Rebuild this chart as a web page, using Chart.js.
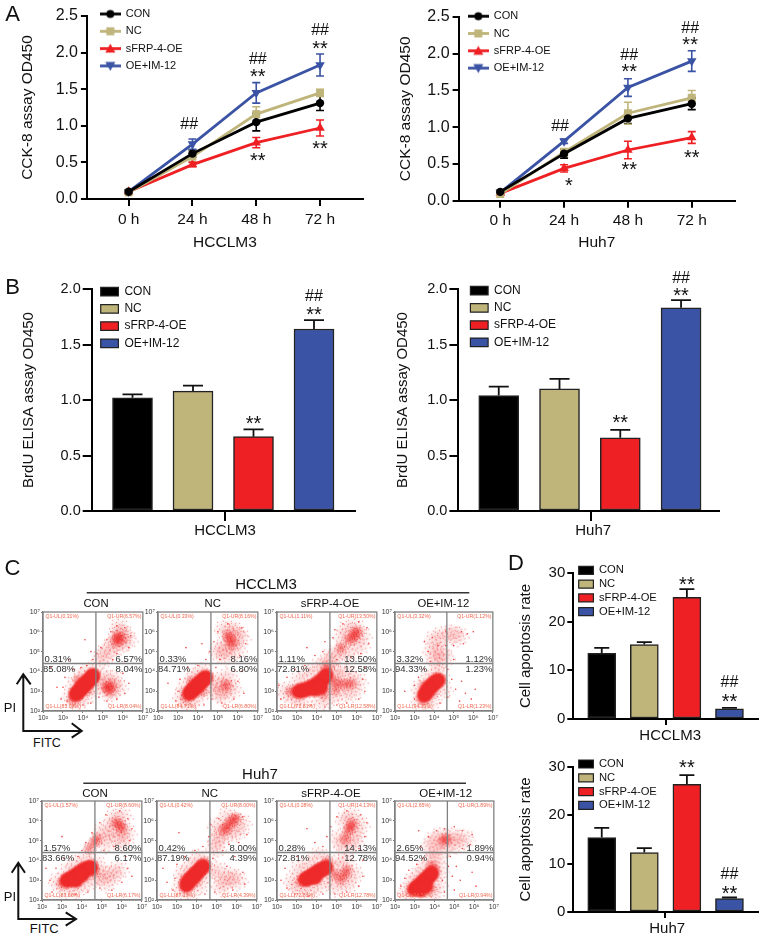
<!DOCTYPE html>
<html><head><meta charset="utf-8">
<script src="https://cdn.jsdelivr.net/npm/chart.js@4"></script>
<style>
html,body{margin:0;padding:0;background:#fff;width:763px;height:937px;overflow:hidden;font-family:"Liberation Sans",Arial,sans-serif}
canvas{position:absolute}
.t{position:absolute;transform:translate(-50%,-50%);white-space:nowrap;color:#111;line-height:1}
svg{position:absolute;left:0;top:0}
</style></head><body>
<svg width="763" height="937" fill="none" stroke="#111">
<path d="M23.3 731V675M16.7 684.3L23.3 674.3L30.7 684.3M22.3 731H81M71.7 723.3L81.7 731L71.7 737.7" stroke-width="2"/>
<path d="M18.3 919V864M11.7 872.7L18.3 862.7L25 872.7M17.3 919H75M65.7 912.3L76 919L65.7 925.7" stroke-width="2"/>
<path d="M86.7 592.7H469.3M83.3 783.3H466" stroke-width="1.6" stroke="#333"/>
</svg>
<script>
// ---------- shared categories ----------
const groupNames = ['CON','NC','sFRP-4-OE','OE+IM-12'];
const groupColors = ['#000000','#BFB47A','#EE2024','#3A53A4'];
const timeHours = [0,24,48,72];
const timeLabels = ['0 h','24 h','48 h','72 h'];

// ---------- panel A values (mean / error) ----------
const aHccCON=[0.10,0.62,1.05,1.31], aHccCONe=[0.02,0.05,0.12,0.10];
const aHccNC=[0.09,0.58,1.16,1.45], aHccNCe=[0.02,0.07,0.10,0.05];
const aHccOE=[0.10,0.47,0.77,0.97], aHccOEe=[0.01,0.03,0.07,0.11];
const aHccIM=[0.10,0.75,1.45,1.83], aHccIMe=[0.02,0.07,0.14,0.15];
const aHuhCON=[0.12,0.64,1.12,1.32], aHuhCONe=[0.02,0.06,0.07,0.08];
const aHuhNC=[0.09,0.66,1.19,1.40], aHuhNCe=[0.02,0.05,0.15,0.10];
const aHuhOE=[0.10,0.44,0.69,0.86], aHuhOEe=[0.01,0.05,0.12,0.08];
const aHuhIM=[0.11,0.81,1.54,1.90], aHuhIMe=[0.01,0.03,0.12,0.14];
const aHccNotes=[[22.8,1.01,'##'],[48.6,1.90,'##'],[48.6,1.72,'**'],[72,2.30,'##'],[72,2.10,'**'],[48.6,0.57,'**'],[72,0.735,'**']];
const aHuhNotes=[[22.5,1.01,'##'],[25.8,0.25,'*'],[48.5,0.46,'**'],[72,0.63,'**'],[48.5,1.97,'##'],[48.5,1.80,'**'],[71.4,2.34,'##'],[71.4,2.16,'**']];

// ---------- panel B values ----------
const bHcc=[1.02,1.08,0.67,1.64], bHccTop=[1.05,1.13,0.735,1.72];
const bHuh=[1.04,1.10,0.66,1.83], bHuhTop=[1.12,1.19,0.73,1.90];
const bHccNotes=[[3,0.815,'**'],[4,1.80,'**'],[4,1.93,'##']];
const bHuhNotes=[[3,0.82,'**'],[4,1.97,'**'],[4,2.09,'##']];

// ---------- panel D values ----------
const dHcc=[13.5,15.3,25.0,2.1], dHccTop=[14.6,15.8,26.7,2.3];
const dHuh=[15.4,12.3,26.4,2.8], dHuhTop=[17.4,13.2,28.3,3.0];
const dHccNotes=[[3,28.3,'**'],[4,7.4,'##'],[4,4.3,'**']];
const dHuhNotes=[[3,30.6,'**'],[4,7.8,'##'],[4,4.5,'**']];

// ---------- panel C : gate positions and percentages (UL, UR, LL, LR) ----------
const flowGate=[4.65,4.4];
const pHccCon=['0.31%','6.57%','85.08%','8.04%'], pHccNc=['0.33%','8.16%','84.71%','6.80%'];
const pHccOe=['1.11%','13.50%','72.81%','12.58%'], pHccIm=['3.32%','1.12%','94.33%','1.23%'];
const pHuhCon=['1.57%','8.60%','83.66%','6.17%'], pHuhNc=['0.42%','8.00%','87.19%','4.39%'];
const pHuhOe=['0.28%','14.13%','72.81%','12.78%'], pHuhIm=['2.65%','1.89%','94.52%','0.94%'];

// ---------- panel C : cloud positions, in log10 units ----------
const hccConCore=[[3.65,2.85],[3.75,2.95],[3.85,3.1],[3.95,3.2],[4.05,3.3],[4.15,3.4],[4.25,3.5],[4.35,3.6],[4.45,3.7],[4.5,3.8]];
const hccConDense=[[5.75,5.75],[5.85,5.65],[5.65,5.55],[5.2,3.2],[5.35,3.25],[5.3,3.05],[3.5,2.6],[4.2,3.05],[3.8,3.55]];
const hccConHaze=[[3.4,2.7],[3.6,3.3],[3.9,3.7],[4.3,4.0],[4.6,3.3],[4.1,2.8],[3.7,2.5],[5.1,3.3],[5.4,3.2],[5.5,3.6],[5.0,3.7],[5.7,3.2],[5.3,2.9],[5.8,5.8],[5.6,5.5],[6.0,5.9],[5.9,5.4],[5.4,5.2],[5.1,4.9],[4.9,4.6],[6.2,5.6],[5.8,6.2]];
const hccConDots=[[3.0,3.2],[3.2,2.5],[2.9,2.6],[3.1,3.7],[3.5,4.1],[3.9,4.2],[4.2,4.3],[4.5,4.6],[4.7,4.9],[4.4,5.0],[4.9,5.2],[5.2,5.6],[5.4,6.0],[5.7,6.3],[6.1,6.2],[6.4,5.8],[6.3,5.2],[5.7,4.9],[5.5,4.6],[6.1,4.5],[6.0,3.9],[6.3,3.4],[6.1,2.9],[5.7,2.6],[5.2,2.5],[4.8,2.7],[4.4,2.4],[4.0,2.3],[3.3,4.6],[4.1,5.6],[2.4,4.2],[2.7,3.2]];

const hccNcCore=[[3.58,2.9],[3.68,3.0],[3.78,3.1],[3.88,3.2],[3.98,3.3],[4.08,3.4],[4.18,3.5],[4.28,3.6],[4.4,3.7]];
const hccNcDense=[[5.6,5.6],[5.5,5.8],[5.7,5.4],[5.4,3.3],[3.4,2.7],[4.2,3.0],[3.7,3.5]];
const hccNcHaze=[[3.2,2.7],[3.4,3.2],[3.8,3.7],[4.2,4.0],[4.5,3.2],[3.9,2.7],[3.5,2.4],[5.0,3.5],[5.3,3.2],[5.5,3.7],[5.7,3.1],[5.2,2.8],[5.0,3.0],[5.6,5.5],[5.3,5.2],[5.9,5.9],[6.1,5.7],[5.3,6.1],[5.0,5.0],[5.4,4.8],[5.9,5.1],[5.7,6.1]];
const hccNcDots=[[2.9,2.5],[3.0,3.0],[3.1,3.6],[3.5,4.2],[4.0,4.3],[4.4,4.6],[4.6,5.0],[4.8,5.5],[5.0,6.0],[5.5,6.4],[6.2,6.2],[6.4,5.4],[6.1,4.8],[5.1,4.6],[4.9,4.2],[6.2,4.0],[6.0,3.5],[6.3,2.9],[5.8,2.6],[5.2,2.4],[4.7,2.6],[4.3,2.3],[2.5,3.4],[4.2,5.4],[3.4,5.2]];

const hccOeCore=[[3.1,3.0],[3.3,3.05],[3.5,3.1],[3.7,3.2],[3.9,3.3],[4.1,3.45],[4.3,3.6],[4.45,3.8],[3.9,3.1],[4.2,3.2]];
const hccOeDense=[[5.9,5.9],[5.8,5.7],[6.0,6.0],[5.6,5.6],[5.2,5.2],[5.1,3.4],[5.4,3.35],[4.8,3.5],[5.7,3.4],[2.7,3.0],[4.5,4.2],[4.3,2.9],[4.9,3.1]];
const hccOeHaze=[[2.4,3.0],[2.8,2.7],[3.2,2.6],[3.1,3.5],[3.6,3.9],[4.1,4.2],[4.5,4.4],[4.7,3.9],[5.0,3.9],[5.5,3.9],[6.0,3.5],[5.8,3.0],[5.3,2.9],[4.7,2.7],[4.2,2.5],[5.9,6.2],[6.2,5.8],[5.5,6.1],[5.3,5.7],[5.0,4.9],[5.5,5.0],[6.1,5.3],[4.7,4.7]];
const hccOeDots=[[2.2,2.6],[2.1,3.3],[2.5,3.7],[2.9,4.1],[3.4,4.3],[3.9,4.8],[4.3,5.0],[4.4,5.5],[4.8,5.7],[4.9,6.1],[5.3,6.4],[6.1,6.5],[6.5,6.2],[6.6,5.4],[6.2,4.9],[5.7,4.7],[5.0,4.6],[6.4,4.2],[6.3,3.6],[6.4,3.0],[6.1,2.6],[5.5,2.4],[5.0,2.3],[4.4,2.2],[3.7,2.3],[3.5,5.2]];

const hccImCore=[[3.5,2.8],[3.6,2.95],[3.7,3.1],[3.82,3.25],[3.95,3.35],[4.05,3.45],[4.2,3.55]];
const hccImDense=[[3.4,2.6],[4.3,3.6],[3.9,2.95],[3.5,3.25]];
const hccImHaze=[[3.3,2.5],[3.3,3.1],[3.7,3.6],[4.2,3.9],[4.4,3.1],[3.8,2.5],[4.4,5.8],[4.0,5.6],[3.9,5.0],[4.3,5.0],[4.1,4.5],[4.5,4.7],[4.9,5.9],[5.2,5.8]];
const hccImDots=[[3.0,2.6],[3.0,3.3],[3.2,3.7],[3.5,4.1],[3.8,4.5],[3.7,5.0],[4.2,5.3],[4.6,5.3],[4.6,6.0],[3.9,5.7],[3.5,5.5],[5.0,5.3],[5.4,6.0],[5.7,5.9],[6.0,6.0],[5.5,5.4],[5.0,4.6],[4.7,4.1],[4.9,3.6],[5.1,3.1],[5.4,3.5],[5.6,2.9],[5.9,2.6],[6.1,3.1],[4.7,2.7],[4.3,2.4],[2.5,3.0],[5.3,2.5]];

const huhConCore=[[3.25,3.0],[3.4,3.05],[3.55,3.15],[3.7,3.25],[3.85,3.35],[4.0,3.45],[4.15,3.55],[4.3,3.6],[4.45,3.65],[3.7,3.0],[4.0,3.25]];
const huhConDense=[[4.75,5.1],[4.6,4.9],[4.35,4.6],[5.7,5.9],[5.9,5.8],[6.0,5.6],[3.0,2.85],[4.55,3.4]];
const huhConHaze=[[2.8,2.9],[3.2,2.6],[3.3,3.4],[3.7,3.8],[4.2,4.0],[4.7,3.8],[4.7,3.2],[4.2,2.9],[3.7,2.6],[5.0,3.3],[5.5,3.3],[5.2,2.9],[5.8,3.5],[5.0,5.4],[5.4,5.6],[5.6,6.1],[6.0,6.2],[6.2,5.4],[5.7,5.3],[6.0,5.0],[5.2,4.9]];
const huhConDots=[[2.4,3.0],[2.2,3.6],[2.7,3.6],[3.1,4.1],[3.8,4.2],[4.0,4.5],[4.2,4.9],[4.5,5.4],[4.9,5.9],[5.2,6.3],[5.9,6.5],[6.3,6.1],[6.5,5.6],[6.4,5.0],[5.6,4.7],[5.1,4.5],[6.2,4.2],[6.3,3.6],[6.5,3.2],[6.0,2.9],[5.5,2.5],[4.9,2.6],[4.3,2.4],[3.7,2.3],[3.0,5.2],[2.5,2.4]];

const huhNcCore=[[3.47,2.75],[3.57,2.9],[3.67,3.05],[3.77,3.15],[3.87,3.25],[3.97,3.35],[4.07,3.45],[4.2,3.6],[4.3,3.7]];
const huhNcDense=[[5.8,6.05],[5.65,5.9],[5.5,5.7],[5.35,5.55],[5.95,6.15],[3.4,3.05],[4.4,3.9],[3.9,2.95]];
const huhNcHaze=[[3.2,2.6],[3.3,3.3],[3.7,3.7],[4.1,4.1],[4.5,3.4],[4.1,2.8],[3.6,2.4],[5.0,3.5],[5.4,3.0],[5.7,3.2],[5.2,2.7],[6.0,3.0],[5.0,5.0],[5.2,5.3],[5.6,5.4],[5.0,5.7],[6.0,5.5],[4.9,4.6],[5.5,6.2],[6.2,5.9]];
const huhNcDots=[[2.8,2.5],[2.9,3.1],[3.0,3.8],[3.4,4.2],[3.9,4.5],[4.3,4.7],[4.6,5.2],[4.7,5.8],[5.1,6.1],[6.3,6.2],[6.5,5.3],[6.1,4.9],[5.6,4.8],[5.3,4.5],[5.9,4.2],[4.8,4.1],[5.5,3.7],[6.3,3.4],[6.4,2.8],[5.8,2.5],[4.9,2.4],[4.4,2.3],[2.3,3.6],[3.1,5.4],[2.5,2.9]];

const huhOeCore=[[3.42,3.05],[3.55,3.1],[3.7,3.2],[3.85,3.3],[4.0,3.4],[4.15,3.5],[4.3,3.55],[4.45,3.65],[3.9,3.15]];
const huhOeDense=[[5.67,5.67],[5.55,5.5],[5.75,5.85],[5.35,3.3],[5.2,3.05],[5.5,3.5],[4.9,3.3],[3.2,2.95],[4.5,3.95],[5.4,5.1]];
const huhOeHaze=[[2.8,2.9],[3.1,2.6],[3.1,3.5],[3.6,3.8],[4.1,4.2],[4.6,3.2],[4.1,2.8],[3.6,2.5],[4.9,3.8],[5.4,3.9],[5.8,3.3],[5.5,2.8],[4.9,2.7],[5.9,5.3],[6.1,5.8],[5.4,6.0],[5.7,6.2],[5.1,5.1],[5.3,4.7],[5.8,4.9]];
const huhOeDots=[[2.2,3.0],[2.4,3.6],[2.5,2.6],[3.0,4.2],[3.6,4.4],[3.9,4.9],[4.3,4.7],[4.5,5.2],[4.7,5.7],[5.0,6.2],[5.5,6.5],[6.2,6.3],[6.5,5.9],[6.4,5.2],[6.1,4.6],[6.3,4.0],[6.3,3.2],[6.1,2.7],[5.5,2.4],[4.9,2.3],[4.3,2.3],[3.6,2.2],[3.5,5.6],[2.9,2.3]];

const huhImCore=[[3.0,2.55],[3.12,2.65],[3.25,2.75],[3.38,2.88],[3.5,3.0],[3.62,3.1],[3.75,3.22],[3.85,3.35],[3.3,2.5],[3.55,2.7]];
const huhImDense=[[3.85,3.7],[3.95,3.5],[4.6,5.1],[4.45,5.0],[2.8,2.45],[3.75,2.6]];
const huhImHaze=[[2.6,2.4],[2.9,2.9],[3.2,3.2],[3.5,3.6],[3.9,4.0],[4.1,4.3],[4.2,3.5],[4.1,2.8],[3.9,2.3],[4.0,5.0],[4.3,5.2],[4.9,5.2],[5.1,4.9],[4.6,4.7],[5.5,5.1],[3.8,4.7]];
const huhImDots=[[2.3,2.7],[2.5,3.1],[2.7,3.5],[3.1,3.8],[3.4,4.1],[3.3,4.7],[3.7,5.2],[4.1,5.5],[4.5,5.6],[5.0,5.7],[5.4,5.5],[5.9,5.3],[5.8,4.8],[5.4,4.6],[4.8,4.2],[4.7,3.7],[4.9,3.2],[5.1,3.7],[5.3,3.0],[5.0,2.5],[4.5,2.4],[4.4,3.0],[5.9,3.4],[6.1,2.7],[3.2,5.5]];

// ---------- helpers ----------
const FF='"Liberation Sans",Arial,sans-serif';
Chart.defaults.font.family=FF;
Chart.defaults.animation=false;
Chart.defaults.responsive=false;
Chart.defaults.color='#111';
const pts=a=>a.map(p=>({x:p[0],y:p[1]}));
function txt(s,cx,cy,size,color){const d=document.createElement('div');d.className='t';d.textContent=s;
 d.style.cssText=`left:${cx}px;top:${cy}px;font-size:${size}px;`+(color?`color:${color};`:'');document.body.appendChild(d);}
function canvasAt(l,t,w,h){const c=document.createElement('canvas');c.width=Math.round(w);c.height=Math.round(h);
 c.style.left=l+'px';c.style.top=t+'px';document.body.appendChild(c);return c;}

// marker styles for the flow clouds: a soft disc with a fine stipple, stamped at each position
function stamp(R,alpha,solid,n){const s=2*R+2,c=document.createElement('canvas');c.width=c.height=s;const x=c.getContext('2d');
 const g=x.createRadialGradient(R+1,R+1,0,R+1,R+1,R);
 g.addColorStop(0,`rgba(238,42,42,${alpha})`);g.addColorStop(solid,`rgba(238,42,42,${alpha})`);g.addColorStop(1,'rgba(238,42,42,0)');
 x.fillStyle=g;x.fillRect(0,0,s,s);
 x.fillStyle='rgba(238,42,42,.6)';
 for(let k=0;k<n;k++){const r=Math.sqrt((k+.5)/n)*R,a=k*2.39996;x.fillRect(R+1+r*Math.cos(a),R+1+r*Math.sin(a),1,1);}
 return c;}
const coreMark=stamp(9,1,0.62,0),denseMark=stamp(7,0.5,0.1,22),hazeMark=stamp(11,0.15,0.15,22);

// error whiskers taken from dataset values
const whiskers={id:'whiskers',beforeDatasetsDraw(ch){
 const {ctx,scales:{x,y}}=ch;
 ch.data.datasets.forEach(d=>{ if(!d.errs) return;
  ctx.save();ctx.strokeStyle=d.errColor;ctx.lineWidth=d.errWidth;
  d.data.forEach((p,i)=>{const px=x.getPixelForValue(p.x),hi=d.errs[i].hi,lo=d.errs[i].lo;
   const h=y.getPixelForValue(hi),l=y.getPixelForValue(lo),c=d.errCap/2;
   ctx.beginPath();ctx.moveTo(px,l);ctx.lineTo(px,h);ctx.moveTo(px-c,h);ctx.lineTo(px+c,h);
   if(lo!==p.y){ctx.moveTo(px-c,l);ctx.lineTo(px+c,l);} ctx.stroke();});
  ctx.restore();});}};
// significance marks and other text anchored on data values
const notes={id:'notes',afterDatasetsDraw(ch,_,o){
 const {ctx,scales:{x,y}}=ch;(o.items||[]).forEach(n=>{
  ctx.save();ctx.font=`${n.size}px ${FF}`;ctx.fillStyle=n.color||'#111';ctx.textAlign=n.align||'center';ctx.textBaseline='middle';
  const dy=n.text[0]==='*'?n.size*0.2:0;ctx.fillText(n.text,x.getPixelForValue(n.x),y.getPixelForValue(n.y)+dy);ctx.restore();});}};
const legendAt={id:'legendAt',beforeDraw(ch,_,o){if(o.x===undefined)return;const l=ch.legend,p=l.options.labels.padding;l.left=o.x-p;l.top=o.y-p;}};
// flow cytometry frame + quadrant gates
const gates={id:'gates',afterDatasetsDraw(ch){const g=ch.options.plugins.gates;if(!g||!g.on)return;
 const {ctx,chartArea:a,scales:{x,y}}=ch;ctx.save();ctx.strokeStyle='#808080';ctx.lineWidth=1.3;
 ctx.strokeRect(a.left,a.top,a.right-a.left,a.bottom-a.top);
 const gx=x.getPixelForValue(flowGate[0]),gy=y.getPixelForValue(flowGate[1]);
 ctx.beginPath();ctx.moveTo(gx,a.top);ctx.lineTo(gx,a.bottom);ctx.moveTo(a.left,gy);ctx.lineTo(a.right,gy);ctx.stroke();ctx.restore();}};
Chart.register(whiskers,notes,legendAt,gates);

const axisStyle=(len)=>({grid:{offset:false,drawOnChartArea:false,color:'#000',lineWidth:2,tickLength:len},border:{color:'#000',width:2}});
const markOf=i=>['circle','rect','triangle','triangle'][i];
function legendSample(i){const c=document.createElement('canvas');c.width=21;c.height=11;const x=c.getContext('2d');
 x.strokeStyle=x.fillStyle=groupColors[i];x.lineWidth=2.8;x.beginPath();x.moveTo(0,5.5);x.lineTo(21,5.5);x.stroke();
 if(i==0){x.beginPath();x.arc(10.5,5.5,4,0,7);x.fill();}
 if(i==1){x.fillRect(6.5,1.5,8,8);}
 if(i==2){x.beginPath();x.moveTo(10.5,.5);x.lineTo(15.5,9.5);x.lineTo(5.5,9.5);x.fill();}
 if(i==3){x.beginPath();x.moveTo(10.5,10.5);x.lineTo(15.5,1.5);x.lineTo(5.5,1.5);x.fill();}
 return c;}

function lineChart(g){
 const pad={top:14,right:14};const fs=15.5,lh=fs*1.2;
 const yw=g.axisX-(g.titleCx-lh/2), xh=g.titleCy+lh/2-g.bottom;
 const left=g.axisX-yw, top=g.top-pad.top;
 const c=canvasAt(left,top,yw+(g.axisEnd-g.axisX)+pad.right,pad.top+(g.bottom-g.top)+xh);
 new Chart(c,{type:'line',
  data:{datasets:g.series.map((s,i)=>({label:groupNames[i],data:timeHours.map((h,k)=>({x:h,y:s[k]})),
   errs:s.map((v,k)=>({hi:v+g.errors[i][k],lo:v-g.errors[i][k]})),errColor:groupColors[i],errWidth:1.6,errCap:8,
   borderColor:groupColors[i],backgroundColor:groupColors[i],borderWidth:2.8,tension:0,
   pointStyle:markOf(i),pointRotation:i==3?180:0,pointRadius:i==1?5.6:(i==0?4.2:5.5),pointBorderWidth:0}))},
  options:{layout:{padding:pad},
   scales:{
    x:{type:'linear',min:-(g.x0-g.axisX)/g.step*24,max:(g.axisEnd-g.x0)/g.step*24,...axisStyle(7),
      afterBuildTicks(s){s.ticks=timeHours.map(v=>({value:v}));},
      afterFit(s){s.height=xh;},
      ticks:{font:{size:15.5},padding:4,maxRotation:0,callback:v=>timeLabels[timeHours.indexOf(v)]},
      title:{display:true,text:g.group,font:{size:15.5},padding:0}},
    y:{min:0,max:2.5,...axisStyle(6),afterFit(s){s.width=yw;},
      ticks:{stepSize:0.5,font:{size:16},padding:3,callback:v=>v.toFixed(1)},
      title:{display:true,text:'CCK-8 assay OD450',font:{size:15.5},padding:0}}},
   plugins:{tooltip:{enabled:false},
    legend:{display:true,position:'chartArea',align:'start',
     labels:{usePointStyle:true,pointStyleWidth:20,boxHeight:11,padding:6.3,font:{size:11},color:'#111',
      generateLabels:()=>groupNames.map((n,i)=>({text:n,pointStyle:legendSample(i),fillStyle:groupColors[i],strokeStyle:groupColors[i],hidden:false,datasetIndex:i,fontColor:'#111'}))}},
    legendAt:{x:g.legX-left,y:g.legY-top},
    notes:{items:g.notes.map(n=>({x:n[0],y:n[1],text:n[2],size:n[2][0]==='#'?16:20}))}}}});
}

function barChart(g){
 const pad={top:26,right:6};const fs=15,lh=fs*1.2;
 const yw=g.axisX-(g.titleCx-lh/2), xh=g.xh;
 const left=g.axisX-yw, top=g.top-pad.top;
 const c=canvasAt(left,top,yw+(g.axisEnd-g.axisX)+pad.right,pad.top+(g.bottom-g.top)+xh);
 const xs=groupNames.map((_,i)=>i+1);
 new Chart(c,{type:'bar',
  data:{datasets:[{data:xs.map((x,i)=>({x,y:g.values[i]})),
    errs:g.tops.map((t,i)=>({hi:t,lo:g.values[i]})),errColor:'#111',errWidth:1.8,errCap:g.cap,
    backgroundColor:groupColors,borderColor:'#222',borderWidth:1.5,borderSkipped:false,barThickness:g.barW}]},
  options:{layout:{padding:pad},
   scales:{
    x:{type:'linear',offset:false,min:1-(g.x0-g.axisX)/g.step,max:4+(g.axisEnd-(g.x0+3*g.step))/g.step,...axisStyle(g.tickLen),
      afterBuildTicks(s){s.ticks=[{value:1+(g.tickX-g.x0)/g.step}];},
      afterFit(s){s.height=xh;},
      ticks:{font:{size:15},padding:g.tickPad,maxRotation:0,labelOffset:g.labelOffset||0,callback:()=>g.group}},
    y:{min:0,max:g.max,...axisStyle(g.yTick),afterFit(s){s.width=yw;},
      ticks:{stepSize:g.stepSize,font:{size:g.tickFont},padding:2,callback:v=>g.max>5?String(v):v.toFixed(1)},
      title:{display:true,text:g.ytitle,font:{size:15},padding:0}}},
   plugins:{tooltip:{enabled:false},
    legend:{display:true,position:'chartArea',align:'start',
     labels:{boxWidth:g.legBox,boxHeight:g.legBoxH,padding:g.legPad,font:{size:g.legFont},color:'#111',
      generateLabels:()=>groupNames.map((n,i)=>({text:n,fillStyle:groupColors[i],strokeStyle:'#222',lineWidth:1.2,hidden:false,index:i,fontColor:'#111'}))}},
    legendAt:{x:g.legX-left,y:g.legY-top},
    notes:{items:g.notes.map(n=>({x:n[0],y:n[1],text:n[2],size:n[2][0]==='#'?16:20}))}}}});
}

const sup={2:'²',3:'³',4:'⁴',5:'⁵',6:'⁶',7:'⁷'};
function flowChart(g){
 const pad={top:6,right:6},yw=18,xh=14;
 const c=canvasAt(g.l-yw,g.t-pad.top,yw+(g.r-g.l)+pad.right,pad.top+(g.b-g.t)+xh);
 const scale=()=>({min:2,max:7,grid:{drawOnChartArea:false,color:'#777',lineWidth:1,tickLength:2},border:{color:'#808080',width:1.3},
   ticks:{stepSize:1,autoSkip:false,maxRotation:0,font:{size:7},padding:1,color:'#333',callback:v=>'10'+sup[v]}});
 const P=g.perc;
 new Chart(c,{type:'scatter',
  data:{datasets:[
   {data:pts(g.core),pointRadius:5,pointStyle:coreMark},
   {data:pts(g.dots),pointRadius:0.8,backgroundColor:'rgba(238,42,42,.9)',pointBorderWidth:0},
   {data:pts(g.dense),pointRadius:5,pointStyle:denseMark},
   {data:pts(g.haze),pointRadius:5,pointStyle:hazeMark}]},
  options:{layout:{padding:pad},
   scales:{x:{...scale(),afterFit(s){s.height=xh;}},y:{...scale(),afterFit(s){s.width=yw;}}},
   plugins:{legend:{display:false},tooltip:{enabled:false},gates:{on:true},
    notes:{items:[
     {x:2.08,y:4.62,text:P[0],size:9.5,align:'left',color:'#333'},
     {x:6.98,y:4.62,text:P[1],size:9.5,align:'right',color:'#333'},
     {x:2.0,y:4.08,text:P[2],size:9.5,align:'left',color:'#333'},
     {x:6.98,y:4.08,text:P[3],size:9.5,align:'right',color:'#333'},
     {x:2.12,y:6.78,text:'Q1-UL('+P[0]+')',size:5.2,align:'left',color:'#F0674F'},
     {x:6.93,y:6.78,text:'Q1-UR('+P[1]+')',size:5.2,align:'right',color:'#F0674F'},
     {x:2.12,y:2.2,text:'Q1-LL('+P[2]+')',size:5.2,align:'left',color:'#F0674F'},
     {x:6.93,y:2.2,text:'Q1-LR('+P[3]+')',size:5.2,align:'right',color:'#F0674F'}]}}}});
}

// ---------- A ----------
lineChart({group:'HCCLM3',axisX:87.3,axisEnd:363,top:15.5,bottom:198,x0:129,step:63.7,titleCx:27.7,titleCy:241.7,
 series:[aHccCON,aHccNC,aHccOE,aHccIM],errors:[aHccCONe,aHccNCe,aHccOEe,aHccIMe],notes:aHccNotes,legX:100.7,legY:8});
lineChart({group:'Huh7',axisX:458.3,axisEnd:735,top:17.3,bottom:201,x0:500,step:63.9,titleCx:405,titleCy:243,
 series:[aHuhCON,aHuhNC,aHuhOE,aHuhIM],errors:[aHuhCONe,aHuhNCe,aHuhOEe,aHuhIMe],notes:aHuhNotes,legX:468,legY:11});
// ---------- B ----------
const bBase={max:2,stepSize:0.5,tickFont:14.5,ytitle:'BrdU ELISA assay OD450',barW:40,cap:20,tickLen:10,yTick:9,tickPad:1,xh:30,top:289.3,bottom:511,legBox:17.7,legBoxH:8.5,legPad:5.2,legFont:12};
barChart({...bBase,group:'HCCLM3',axisX:91.7,axisEnd:355,x0:132.5,step:60.5,tickX:225,titleCx:29,values:bHcc,tops:bHccTop,notes:bHccNotes,legX:100.7,legY:286});
barChart({...bBase,group:'Huh7',axisX:458.7,axisEnd:719,x0:499,step:60.7,tickX:591.3,titleCx:403.3,labelOffset:2,values:bHuh,tops:bHuhTop,notes:bHuhNotes,legX:470.7,legY:285});
// ---------- D ----------
const dBase={max:30,stepSize:10,tickFont:15,ytitle:'Cell apoptosis rate',barW:28,cap:15,tickLen:6,yTick:6,tickPad:2,xh:25,axisX:573.3,axisEnd:757.7,x0:601.7,step:42.5,titleCx:526,legBox:14.7,legBoxH:8,legPad:2.6,legFont:11.2,legX:578.7};
barChart({...dBase,group:'HCCLM3',top:573.3,bottom:719.3,tickX:666,labelOffset:4,values:dHcc,tops:dHccTop,notes:dHccNotes,legY:565});
barChart({...dBase,group:'Huh7',top:767.3,bottom:912.7,tickX:665,labelOffset:2,values:dHuh,tops:dHuhTop,notes:dHuhNotes,legY:758.7});
// ---------- C ----------
const row1={t:612.3,b:711.7},row2={t:801,b:900};
flowChart({...row1,l:42.7,r:142.3,core:hccConCore,dense:hccConDense,haze:hccConHaze,dots:hccConDots,perc:pHccCon});
flowChart({...row1,l:158.3,r:258,core:hccNcCore,dense:hccNcDense,haze:hccNcHaze,dots:hccNcDots,perc:pHccNc});
flowChart({...row1,l:276.7,r:376.7,core:hccOeCore,dense:hccOeDense,haze:hccOeHaze,dots:hccOeDots,perc:pHccOe});
flowChart({...row1,l:395,r:493.3,core:hccImCore,dense:hccImDense,haze:hccImHaze,dots:hccImDots,perc:pHccIm});
flowChart({...row2,l:41.7,r:141.7,core:huhConCore,dense:huhConDense,haze:huhConHaze,dots:huhConDots,perc:pHuhCon});
flowChart({...row2,l:157.3,r:257.3,core:huhNcCore,dense:huhNcDense,haze:huhNcHaze,dots:huhNcDots,perc:pHuhNc});
flowChart({...row2,l:276.7,r:376.7,core:huhOeCore,dense:huhOeDense,haze:huhOeHaze,dots:huhOeDots,perc:pHuhOe});
flowChart({...row2,l:395,r:493.7,core:huhImCore,dense:huhImDense,haze:huhImHaze,dots:huhImDots,perc:pHuhIm});

// ---------- page text ----------
txt('A',12.5,13.5,22);txt('B',12.5,287.3,22);txt('C',12.5,567.7,22);txt('D',516,563,22);
txt('HCCLM3',266,583,15);txt('Huh7',260,772.7,15);
[[96,'CON'],[212.7,'NC'],[330,'sFRP-4-OE'],[443.3,'OE+IM-12']].forEach(a=>txt(a[1],a[0],603.7,11.3));
[[95,'CON'],[209.7,'NC'],[331,'sFRP-4-OE'],[445.7,'OE+IM-12']].forEach(a=>txt(a[1],a[0],793.5,11.5));
txt('PI',10,706.7,13);txt('FITC',47,743,12.5);txt('PI',10,895.7,13);txt('FITC',44.3,928.3,13);
</script>
</body></html>
